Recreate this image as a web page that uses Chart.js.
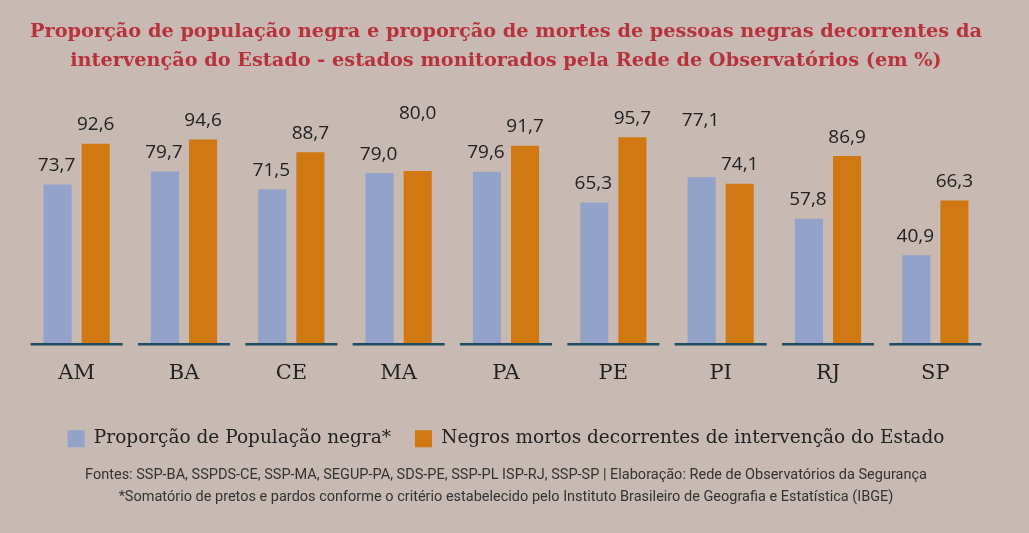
<!DOCTYPE html>
<html lang="pt-BR">
<head>
<meta charset="utf-8">
<script src="https://cdn.jsdelivr.net/npm/chart.js@4"></script>
<style>
  html, body { margin: 0; padding: 0; }
  body {
    width: 1029px;
    height: 533px;
    background: #c8b9b3;
    overflow: hidden;
  }
  #wrap { position: relative; width: 1029px; height: 533px; }
</style>
</head>
<body>
<div id="wrap"><canvas id="myChart"></canvas></div>
<script>
const categories = ['AM', 'BA', 'CE', 'MA', 'PA', 'PE', 'PI', 'RJ', 'SP'];
const populacaoNegra = [73.7, 79.7, 71.5, 79.0, 79.6, 65.3, 77.1, 57.8, 40.9];
const negrosMortos = [92.6, 94.6, 88.7, 80.0, 91.7, 95.7, 74.1, 86.9, 66.3];
const seriesNames = [
  'Proporção de População negra*',
  'Negros mortos decorrentes de intervenção do Estado',
];
const titleLines = [
  'Proporção de população negra e proporção de mortes de pessoas negras decorrentes da',
  'intervenção do Estado - estados monitorados pela Rede de Observatórios (em %)',
];
const footerLines = [
  'Fontes: SSP-BA, SSPDS-CE, SSP-MA, SEGUP-PA, SDS-PE, SSP-PL ISP-RJ, SSP-SP | Elaboração: Rede de Observatórios da Segurança',
  '*Somatório de pretos e pardos conforme o critério estabelecido pelo Instituto Brasileiro de Geografia e Estatística (IBGE)',
];

const BLUE = '#93a2c8';
const ORANGE = '#d07912';

// formats 73.7 -> "73,7"
function fmt(v) {
  return v.toFixed(1).replace('.', ',');
}

// value labels above each bar; when the two bars of a pair are almost
// the same height the taller one's label gets pushed up so they don't collide
const valueLabels = {
  id: 'valueLabels',
  afterDatasetsDraw(chart) {
    const ctx = chart.ctx;
    const m0 = chart.getDatasetMeta(0).data;
    const m1 = chart.getDatasetMeta(1).data;
    ctx.save();
    ctx.font = '19px "Open Sans", sans-serif';
    ctx.fillStyle = '#222';
    ctx.textAlign = 'center';
    ctx.textBaseline = 'middle';
    categories.forEach((c, i) => {
      const a = m0[i];
      const b = m1[i];
      let liftA = 0;
      let liftB = 0;
      if (Math.abs(a.y - b.y) < 20) {
        if (a.y < b.y) liftA = 38;
        else liftB = 38;
      }
      ctx.fillText(fmt(populacaoNegra[i]), a.x - 1, a.y - 19 - liftA);
      ctx.fillText(fmt(negrosMortos[i]), b.x, b.y - 19 - liftB);
    });
    ctx.restore();
  },
};

// short dark baseline under each pair of bars
const groupBaselines = {
  id: 'groupBaselines',
  afterDatasetsDraw(chart) {
    const ctx = chart.ctx;
    const x = chart.scales.x;
    const y0 = chart.scales.y.getPixelForValue(0);
    ctx.save();
    ctx.strokeStyle = '#1d4b5f';
    ctx.lineWidth = 2.5;
    categories.forEach((c, i) => {
      const cx = x.getPixelForTick(i);
      ctx.beginPath();
      ctx.moveTo(cx - 46, y0 + 1);
      ctx.lineTo(cx + 46, y0 + 1);
      ctx.stroke();
    });
    ctx.restore();
  },
};

new Chart(document.getElementById('myChart'), {
  type: 'bar',
  data: {
    labels: categories,
    datasets: [
      { label: seriesNames[0], data: populacaoNegra, backgroundColor: BLUE },
      { label: seriesNames[1], data: negrosMortos, backgroundColor: ORANGE },
    ],
  },
  options: {
    responsive: true,
    maintainAspectRatio: false,
    animation: false,
    layout: { padding: { left: 23, right: 40, top: 0, bottom: 0 } },
    datasets: {
      bar: { categoryPercentage: 0.71, barPercentage: 0.737 },
    },
    plugins: {
      title: {
        display: true,
        text: titleLines,
        color: '#b7323a',
        font: { family: '"DejaVu Serif", serif', size: 19.3, weight: 'bold', lineHeight: 1.5 },
        padding: { top: 18, bottom: 52 },
      },
      legend: {
        position: 'bottom',
        labels: {
          boxWidth: 17,
          boxHeight: 17,
          padding: 24,
          color: '#222',
          font: { family: '"DejaVu Serif", serif', size: 18.5 },
        },
      },
      subtitle: {
        display: true,
        position: 'bottom',
        text: footerLines,
        color: '#333',
        font: { family: 'Roboto, sans-serif', size: 14.5, lineHeight: 1.52 },
        padding: { top: 6, bottom: 25 },
      },
      tooltip: { enabled: false },
    },
    scales: {
      x: {
        grid: { display: false },
        border: { display: false },
        ticks: {
          color: '#222',
          padding: 10,
          font: { family: '"DejaVu Serif", serif', size: 21 },
        },
        afterFit(scale) {
          scale.height += 9;
        },
      },
      y: {
        display: false,
        min: 0,
        max: 100,
      },
    },
  },
  plugins: [groupBaselines, valueLabels],
});
</script>
</body>
</html>
